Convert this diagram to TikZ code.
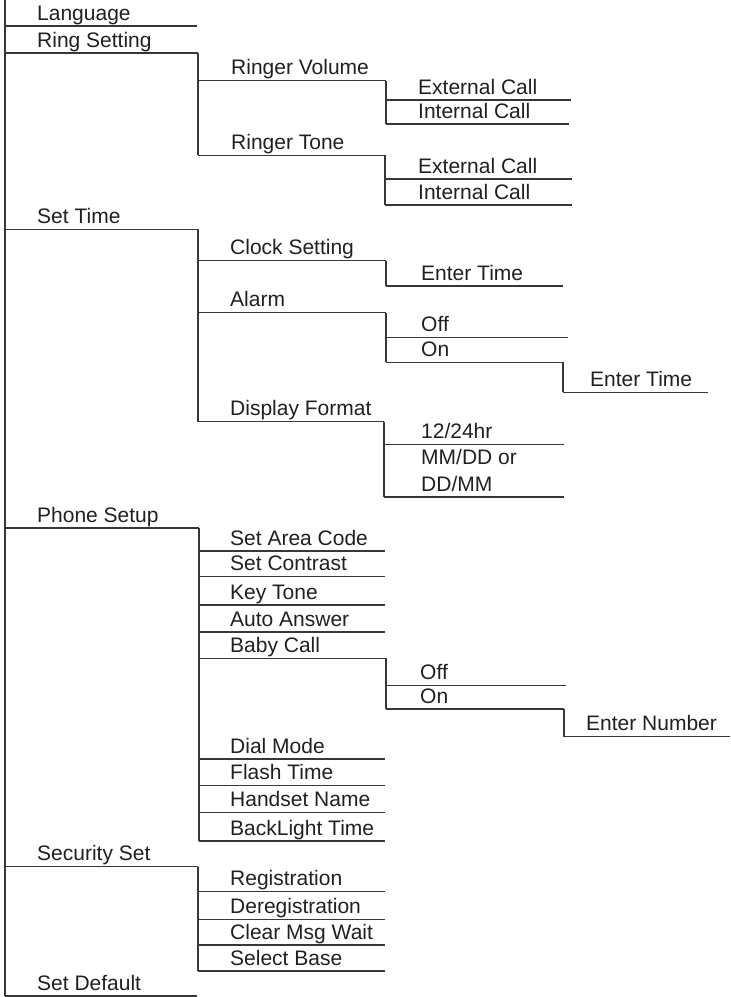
\documentclass[tikz,border=0pt]{standalone}
\usepackage{fontspec}
\setmainfont{Liberation Sans}
\definecolor{txt}{RGB}{35,31,32}
\definecolor{lncol}{RGB}{55,55,55}
\tikzset{
  lbl/.style={anchor=base west, inner sep=0pt, font=\fontsize{21}{26}\selectfont, text=txt},
  ln/.style={draw=lncol, line width=1.2pt}
}
% name, x start, y, x end, text x, text
\newcommand\mitem[6]{%
  \coordinate (#1-a) at (#2,#3);
  \coordinate (#1-b) at (#4,#3);
  \node[lbl] (#1) at (#5,#3) [yshift=6pt] {#6};
  \draw[ln] (#1-a) -- (#1-b);
}
% vertical drop from item #1 end to item #2 start
\newcommand\mdrop[2]{\draw[ln] (#1-b) -- (#2-a);}
\begin{document}
\begin{tikzpicture}[x=1pt,y=-1pt]
\useasboundingbox (0,0) rectangle (731,997);
% main vertical
\coordinate (top) at (5,0);
% level 0
\mitem{lang}{5}{26}{197}{37}{Language}
\mitem{ring}{5}{53}{198}{37}{Ring Setting}
\mitem{time}{5}{229.3}{198}{37}{Set Time}
\mitem{phone}{5}{528}{199}{37}{Phone Setup}
\mitem{sec}{5}{866.7}{198}{37}{Security Set}
\mitem{def}{5}{996}{197}{37}{Set Default}
\draw[ln] (top) -- (def-a);
% Ring setting
\mitem{rv}{198}{80.7}{386}{231}{Ringer Volume}
\mitem{rvext}{386}{100}{571}{418}{External Call}
\mitem{rvint}{386}{124}{569}{418}{Internal Call}
\mitem{rt}{198}{155.3}{385}{231}{Ringer Tone}
\mitem{rtext}{385}{179}{572}{418}{External Call}
\mitem{rtint}{385}{205}{572}{418}{Internal Call}
\mdrop{ring}{rt}
\mdrop{rv}{rvint}
\mdrop{rt}{rtint}
% Set time
\mitem{clock}{198}{260.7}{386}{230}{Clock Setting}
\mitem{clet}{386}{286}{563}{421}{Enter Time}
\mitem{alarm}{198}{312.7}{386}{230}{Alarm}
\mitem{aoff}{386}{337.3}{568}{421}{Off}
\mitem{aon}{386}{362.3}{563}{421}{On}
\mitem{aet}{563}{392.3}{708}{590}{Enter Time}
\mitem{disp}{198}{421.5}{384}{230}{Display Format}
\mitem{hr}{384}{444.5}{564}{421}{12/24hr}
\mitem{mmdd}{384}{497}{564}{421}{DD/MM}
\node[lbl] (mmddtop) at (421,464.3) {MM/DD or};
\mdrop{time}{disp}
\mdrop{clock}{clet}
\mdrop{alarm}{aon}
\mdrop{aon}{aet}
\mdrop{disp}{mmdd}
% Phone setup
\mitem{sac}{199}{551}{385}{230}{Set Area Code}
\mitem{scon}{199}{576.5}{385}{230}{Set Contrast}
\mitem{kt}{199}{605}{385}{230}{Key Tone}
\mitem{aa}{199}{632}{385}{230}{Auto Answer}
\mitem{baby}{199}{658.3}{386}{230}{Baby Call}
\mitem{boff}{386}{685.5}{566}{420}{Off}
\mitem{bon}{386}{709}{564}{420}{On}
\mitem{ben}{564}{736.7}{730}{586}{Enter Number}
\mitem{dm}{199}{759}{385}{230}{Dial Mode}
\mitem{ft}{199}{785.7}{385}{230}{Flash Time}
\mitem{hn}{199}{812.3}{385}{230}{Handset Name}
\mitem{bl}{199}{841}{385}{230}{BackLight Time}
\mdrop{phone}{bl}
\mdrop{baby}{bon}
\mdrop{bon}{ben}
% Security
\mitem{reg}{198}{891.7}{385}{230}{Registration}
\mitem{dereg}{198}{919.3}{385}{230}{Deregistration}
\mitem{cmw}{198}{945}{385}{230}{Clear Msg Wait}
\mitem{sb}{198}{971}{385}{230}{Select Base}
\mdrop{sec}{sb}
\end{tikzpicture}
\end{document}
